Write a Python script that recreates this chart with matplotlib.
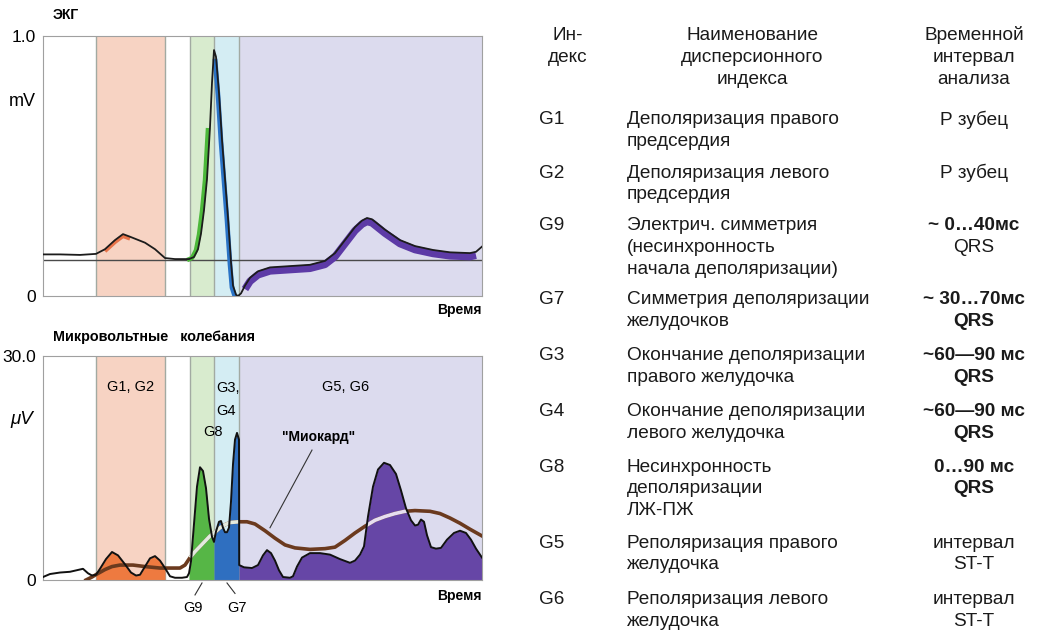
import numpy as np
import matplotlib.pyplot as plt
from matplotlib import transforms

plt.rcParams['font.family'] = ['Liberation Sans', 'DejaVu Sans']

# --- data (time in arbitrary units, 0..439) ---
band_edges = [0, 53, 122, 147, 171, 196, 439]
band_colors = ['white', '#f7d3c3', 'white', '#d8ebce', '#d4edf3', '#dcdbee']

ecg_t = [0, 17, 37, 53, 62, 72, 80, 87, 102, 112, 122, 132, 146, 151, 155, 158,
         161, 164, 167, 169, 171, 173, 176, 179, 182, 185, 188, 190, 193, 195,
         198, 202, 207, 215, 227, 247, 267, 282, 292, 302, 312, 319, 324, 329,
         342, 357, 372, 390, 407, 427, 433, 439]
ecg_mv = [0.16, 0.16, 0.158, 0.162, 0.18, 0.215, 0.238, 0.228, 0.205, 0.18,
          0.146, 0.142, 0.142, 0.15, 0.18, 0.24, 0.33, 0.45, 0.65, 0.82, 0.946,
          0.92, 0.78, 0.6, 0.45, 0.3, 0.13, 0.04, 0.005, 0.0, 0.01, 0.04, 0.07,
          0.095, 0.11, 0.115, 0.12, 0.135, 0.165, 0.215, 0.265, 0.29, 0.30,
          0.295, 0.255, 0.215, 0.192, 0.177, 0.168, 0.165, 0.17, 0.19]
ecg_base = 0.138

uv_t = [0, 7, 17, 27, 40, 45, 49, 53, 57, 63, 69, 75, 82, 88, 93, 97, 102, 107,
        112, 117, 122, 127, 132, 139, 144, 146, 148, 151, 154, 157, 160, 163,
        166, 169, 171, 173, 176, 178, 180, 182, 184, 186, 188, 190, 192, 194,
        196, 196.2, 201, 209, 215, 220, 224, 228, 232, 236, 240, 247, 250, 254,
        259, 267, 277, 287, 297, 307, 312, 317, 321, 325, 330, 335, 341, 347,
        353, 358, 363, 368, 372, 375, 378, 381, 384, 388, 393, 398, 404, 411,
        417, 423, 428, 433, 439]
uv = [0.4, 0.8, 1.0, 1.1, 1.5, 0.9, 0.6, 0.7, 1.5, 2.8, 3.75, 3.3, 2.1, 1.0,
      0.6, 0.7, 1.8, 2.9, 3.2, 2.6, 1.6, 0.5, 0.3, 0.3, 0.4, 0.9, 2.5, 7.5,
      12.5, 15.1, 14.6, 12.3, 8.2, 5.8, 5.1, 6.5, 7.8, 7.9, 7.0, 6.4, 6.4, 7.0,
      10.5, 15.5, 18.8, 19.7, 18.8, 2.0, 1.7, 1.6, 2.0, 3.3, 4.0, 3.6, 2.6,
      1.3, 0.4, 0.3, 0.5, 1.8, 3.0, 3.6, 3.6, 3.4, 2.8, 2.3, 2.6, 3.4, 4.5,
      8.5, 12.5, 14.8, 15.7, 15.4, 14.2, 12.0, 9.6, 8.0, 7.3, 7.4, 8.1, 7.8,
      6.0, 4.4, 4.2, 4.3, 5.4, 6.3, 6.6, 6.3, 5.4, 4.2, 3.0]

myo_t = [43, 49, 54, 62, 69, 77, 90, 102, 117, 137, 142, 147, 152, 157, 162,
         167, 172, 177, 182, 187, 196, 204, 212, 222, 232, 242, 252, 267, 282,
         292, 302, 312, 322, 332, 342, 352, 362, 372, 387, 397, 407, 417, 427, 439]
myo_uv = [0.0, 0.4, 0.8, 1.4, 1.8, 2.0, 2.0, 1.8, 1.6, 1.6, 2.0, 3.0, 3.8, 4.5,
          5.2, 5.9, 6.4, 7.0, 7.4, 7.7, 7.8, 7.8, 7.5, 6.6, 5.6, 4.7, 4.3, 4.1,
          4.2, 4.4, 5.3, 6.3, 7.2, 8.0, 8.5, 8.9, 9.2, 9.3, 9.2, 8.9, 8.3, 7.6,
          6.8, 5.9]

idx_labels = ['G1', 'G2', 'G9', 'G7', 'G3', 'G4', 'G8', 'G5', 'G6']
names = [
    ['Деполяризация правого', 'предсердия'],
    ['Деполяризация левого', 'предсердия'],
    ['Электрич. симметрия', '(несинхронность', 'начала деполяризации)'],
    ['Симметрия деполяризации', 'желудочков'],
    ['Окончание деполяризации', 'правого желудочка'],
    ['Окончание деполяризации', 'левого желудочка'],
    ['Несинхронность', 'деполяризации', 'ЛЖ-ПЖ'],
    ['Реполяризация правого', 'желудочка'],
    ['Реполяризация левого', 'желудочка'],
]
times = [
    ['Р зубец'], ['Р зубец'], ['~ 0…40мс', 'QRS'], ['~ 30…70мс', 'QRS'],
    ['~60—90 мс', 'QRS'], ['~60—90 мс', 'QRS'], ['0…90 мс', 'QRS'],
    ['интервал', 'ST-T'], ['интервал', 'ST-T'],
]
times_bold = [
    [False], [False], [True, False], [True, True], [True, True], [True, True],
    [True, True], [False, False], [False, False],
]

# --- layout ---
W, H = 1040, 632
fig = plt.figure(figsize=(W / 100, H / 100), dpi=100)


def box(l, t, r, b):
    return [l / W, 1 - b / H, (r - l) / W, (b - t) / H]


def fx(px):
    return px / W


def fy(py):
    return 1 - py / H


ax1 = fig.add_axes(box(43, 36, 482, 296))
ax2 = fig.add_axes(box(43, 356, 482, 580))

for ax in (ax1, ax2):
    for i in range(len(band_colors)):
        ax.axvspan(band_edges[i], band_edges[i + 1], color=band_colors[i], lw=0, zorder=0)
    for e in band_edges[1:-1]:
        ax.axvline(e, color='#a2aaa2', lw=1, zorder=1)
    ax.set_xlim(band_edges[0], band_edges[-1])
    ax.set_xticks([])
    for s in ax.spines.values():
        s.set_color('#a0a0a0')
    ax.tick_params(axis='y', length=0, labelsize=12.5, pad=5)

# top: ECG
ecg_t = np.array(ecg_t)
ecg_mv = np.array(ecg_mv)
ax1.set_ylim(0, 1.0)
ax1.set_yticks([0, 1.0], ['0', '1.0'])
ax1.axhline(ecg_base, color='#4a4a4a', lw=1, zorder=2)

# coloured band under the ECG trace: (range, colour, offset px, width pt)
segs = [((55, 87), '#e8744a', (0, -2), 2.8),
        ((146, 167), '#4cb83a', (-2, -1), 3.2),
        ((172, 195), '#2a73c6', (-1, -2), 3.4),
        ((202, 433), '#5d3aa6', (0, -3.5), 5.4)]
for (a, b), c, (ox, oy), w in segs:
    m = (ecg_t >= a) & (ecg_t <= b)
    tr = transforms.offset_copy(ax1.transData, fig=fig, x=ox, y=oy, units='dots')
    ax1.plot(ecg_t[m], ecg_mv[m], color=c, lw=w, transform=tr,
             solid_capstyle='butt', zorder=3)
ax1.plot(ecg_t, ecg_mv, color='#1c1c1c', lw=1.3, zorder=5)

fig.text(fx(66), fy(15), 'ЭКГ', fontsize=10, fontweight='bold', ha='center', va='center')
fig.text(fx(22), fy(102), 'mV', fontsize=13, ha='center', va='center')
fig.text(fx(482), fy(310), 'Время', fontsize=10, fontweight='bold', ha='right', va='center')

# bottom: microvolt oscillations
uv_t = np.array(uv_t)
uv = np.array(uv)
ax2.set_ylim(0, 30)
ax2.set_yticks([0, 30], ['0', '30.0'])

fills = [((53, 122), '#ee7a40'), ((146, 171), '#56b646'),
         ((171, 196), '#2f6fc0'), ((196.2, 439), '#6646a6')]
polys = []
for (a, b), c in fills:
    m = (uv_t >= a) & (uv_t <= b)
    polys.append(ax2.fill_between(uv_t, 0, uv, where=m, color=c, lw=0, zorder=2))

ax2.plot(myo_t, myo_uv, color='#6b3a1e', lw=2.6, zorder=3)
myo_t_a = np.array(myo_t)
myo_uv_a = np.array(myo_uv)
m = (myo_t_a >= 147) & (myo_t_a <= 196)
ax2.plot(myo_t_a[m], myo_uv_a[m], color='#e3eadf', lw=2.6, zorder=3.5,
         solid_capstyle='butt')
light, = ax2.plot(myo_t, myo_uv, color='#e6def0', lw=2.6, zorder=3.5)
light.set_clip_path(polys[3].get_paths()[0], ax2.transData)

ax2.plot(uv_t, uv, color='#111111', lw=1.4, zorder=4)

fig.text(fx(53), fy(337), 'Микровольтные   колебания', fontsize=10.4,
         fontweight='bold', ha='left', va='center')
fig.text(fx(22), fy(420), 'μV', fontsize=13.5, fontstyle='italic', ha='center', va='center')
fig.text(fx(482), fy(596), 'Время', fontsize=10, fontweight='bold', ha='right', va='center')

ax2.text(88, 25.8, 'G1, G2', fontsize=10.5, ha='center', va='center', zorder=6)
ax2.text(303, 25.8, 'G5, G6', fontsize=10.5, ha='center', va='center', zorder=6)
ax2.text(173, 25.7, 'G3,', fontsize=10.5, ha='left', va='center', zorder=6)
ax2.text(173, 22.6, 'G4', fontsize=10.5, ha='left', va='center', zorder=6)
ax2.text(170, 19.8, 'G8', fontsize=10.5, ha='center', va='center', zorder=6)
ax2.text(276, 19.2, '"Миокард"', fontsize=10, fontweight='bold', ha='center',
         va='center', zorder=6)
ax2.plot([269, 227], [17.4, 7.0], color='#333333', lw=0.8, zorder=6)

ax2.plot([159, 152], [-0.4, -2.0], color='#333333', lw=0.8, clip_on=False)
ax2.plot([184, 192], [-0.4, -1.8], color='#333333', lw=0.8, clip_on=False)
ax2.text(150, -3.7, 'G9', fontsize=10.5, ha='center', va='center')
ax2.text(194, -3.7, 'G7', fontsize=10.5, ha='center', va='center')

# --- table on the right ---
tc = '#1a1a1a'
fs = 13.7
step = 21.7
fig.text(fx(568), fy(35), 'Ин-', fontsize=fs, ha='center', va='center', color=tc)
fig.text(fx(568), fy(57), 'декс', fontsize=fs, ha='center', va='center', color=tc)
for i, s in enumerate(['Наименование', 'дисперсионного', 'индекса']):
    fig.text(fx(752), fy(35 + i * 22), s, fontsize=fs, ha='center', va='center', color=tc)
for i, s in enumerate(['Временной', 'интервал', 'анализа']):
    fig.text(fx(974), fy(35 + i * 22), s, fontsize=fs, ha='center', va='center', color=tc)

row_y = [120, 173, 226, 300, 356, 412, 467, 543, 600]
for k in range(len(idx_labels)):
    y0 = row_y[k]
    fig.text(fx(539), fy(y0), idx_labels[k], fontsize=fs, ha='left', va='center', color=tc)
    for i, s in enumerate(names[k]):
        fig.text(fx(627), fy(y0 + i * step), s, fontsize=fs, ha='left', va='center', color=tc)
    for i, s in enumerate(times[k]):
        fig.text(fx(974), fy(y0 + i * step), s, fontsize=fs, ha='center', va='center',
                 color=tc, fontweight='bold' if times_bold[k][i] else 'normal')

fig.savefig('out.png', dpi=100)
